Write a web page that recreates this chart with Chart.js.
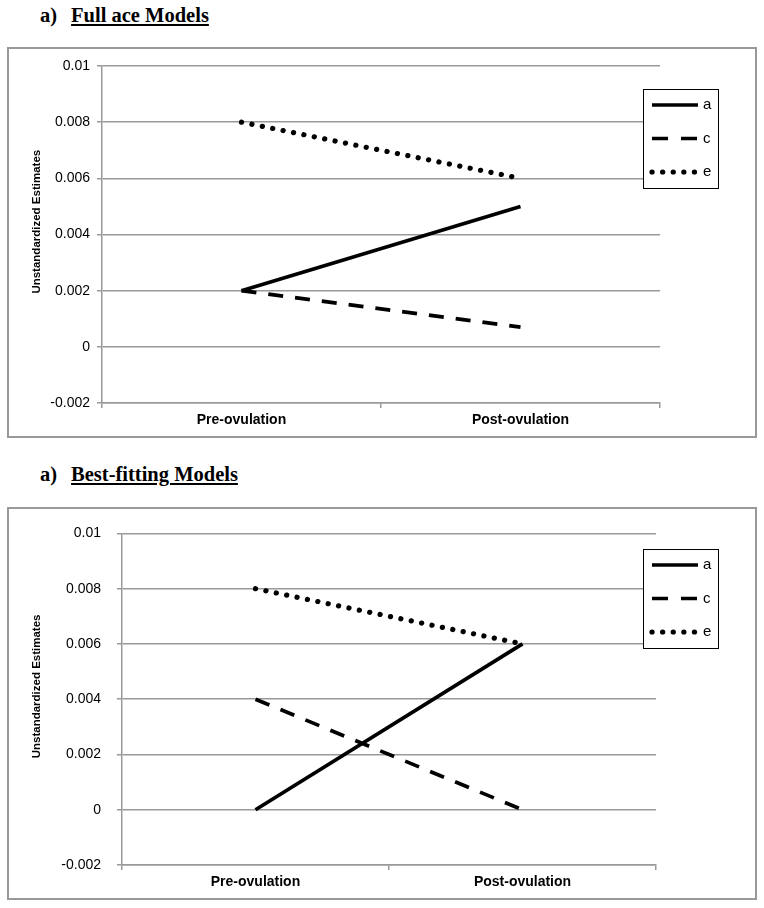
<!DOCTYPE html>
<html>
<head>
<meta charset="utf-8">
<script src="https://cdn.jsdelivr.net/npm/chart.js@4.4.1/dist/chart.umd.min.js"></script>
<style>
  body { margin: 0; background: #fff; width: 764px; height: 908px; position: relative; overflow: hidden; }
  .head { position: absolute; left: 40px; font: bold 20.5px 'Liberation Serif', 'Times New Roman', serif; line-height: 20px; white-space: nowrap; color: #000; }
  .head u { margin-left: 14px; }
  .box { position: absolute; left: 7px; width: 746px; border: 2px solid #999; }
  .box canvas { display: block; }
</style>
</head>
<body>
<div class="head" style="top:5px">a)<u>Full ace Models</u></div>
<div class="box" style="top:47px;height:387px"><canvas id="chartA" width="746" height="387"></canvas></div>
<div class="head" style="top:464px">a)<u>Best-fitting Models</u></div>
<div class="box" style="top:507px;height:389px"><canvas id="chartB" width="746" height="389"></canvas></div>

<script>
// data
var categories = ['Pre-ovulation', 'Post-ovulation'];
var seriesNames = ['a', 'c', 'e'];

// full ace models
var fullA = [0.002, 0.005];
var fullC = [0.002, 0.0007];
var fullE = [0.008, 0.006];

// best-fitting models
var bestA = [0, 0.006];
var bestC = [0.004, 0];
var bestE = [0.008, 0.006];

var yTickLabels = ['-0.002', '0', '0.002', '0.004', '0.006', '0.008', '0.01'];
var yTitle = 'Unstandardized Estimates';

var sans = "'Liberation Sans', Arial, sans-serif";
var axisGray = '#999';

var lineStyles = [
  { borderDash: [], borderCapStyle: 'butt', borderWidth: 3.7 },
  { borderDash: [15, 12], borderCapStyle: 'butt', borderWidth: 3.7 },
  { borderDash: [0.1, 10.5], borderCapStyle: 'round', borderWidth: 5.2 },
];

// legend in a framed box, right of the plot
var boxLegend = {
  id: 'boxLegend',
  afterDraw: function (chart) {
    var ctx = chart.ctx;
    var x = 634, y = 40, w = 75, h = 99;
    ctx.save();
    ctx.fillStyle = '#fff';
    ctx.fillRect(x, y, w, h);
    ctx.setLineDash([]);
    ctx.lineWidth = 1;
    ctx.strokeStyle = '#000';
    ctx.strokeRect(x + 0.5, y + 0.5, w, h);
    chart.data.datasets.forEach(function (ds, i) {
      var ly = y + 16 + i * 33.5;
      ctx.beginPath();
      ctx.setLineDash(i == 1 ? [16, 13] : ds.borderDash);
      ctx.lineCap = ds.borderCapStyle;
      ctx.lineWidth = ds.borderWidth;
      ctx.strokeStyle = ds.borderColor;
      ctx.moveTo(x + 9, ly);
      ctx.lineTo(x + 55, ly);
      ctx.stroke();
      ctx.setLineDash([]);
      ctx.fillStyle = '#000';
      ctx.font = '15px ' + sans;
      ctx.textBaseline = 'middle';
      ctx.fillText(ds.label, x + 60, ly);
    });
    ctx.restore();
  },
};

function makeChart(id, seriesA, seriesC, seriesE, axisWidth, labelPad, rightPad) {
  var values = [seriesA, seriesC, seriesE];
  var datasets = values.map(function (v, i) {
    return Object.assign({
      label: seriesNames[i],
      data: v,
      borderColor: '#000',
      backgroundColor: '#000',
      pointRadius: 0,
      tension: 0,
      fill: false,
    }, lineStyles[i]);
  });

  return new Chart(document.getElementById(id), {
    type: 'line',
    data: { labels: categories, datasets: datasets },
    plugins: [boxLegend],
    options: {
      responsive: false,
      animation: false,
      layout: { padding: { top: 17, right: rightPad, left: 0, bottom: 0 } },
      plugins: {
        legend: { display: false },
        tooltip: { enabled: false },
      },
      scales: {
        x: {
          offset: true,
          grid: { offset: true, drawOnChartArea: false, drawTicks: true, tickLength: 5, color: axisGray, lineWidth: 1.5 },
          border: { color: axisGray, width: 1.5 },
          ticks: { color: '#000', font: { family: sans, size: 14, weight: 'bold' }, padding: 4, maxRotation: 0 },
          afterFit: function (s) { s.height = 33; },
        },
        y: {
          min: -0.002,
          max: 0.01,
          grid: { color: axisGray, lineWidth: 1.5, tickLength: 5 },
          border: { color: axisGray, width: 1.5 },
          ticks: {
            stepSize: 0.002,
            color: '#000',
            font: { family: sans, size: 14 },
            padding: labelPad,
            callback: function (v, i) { return yTickLabels[i]; },
          },
          title: {
            display: true,
            // leading spaces lift the rotated title a little above centre, as in the original
            text: '        ' + yTitle,
            color: '#000',
            font: { family: sans, size: 11.5, weight: 'bold' },
            padding: { top: 21, bottom: 0 },
          },
          afterFit: function (s) { s.width = axisWidth; },
        },
      },
    },
  });
}

makeChart('chartA', fullA, fullC, fullE, 93, 7, 95);
makeChart('chartB', bestA, bestC, bestE, 113, 16, 99);
</script>
</body>
</html>
